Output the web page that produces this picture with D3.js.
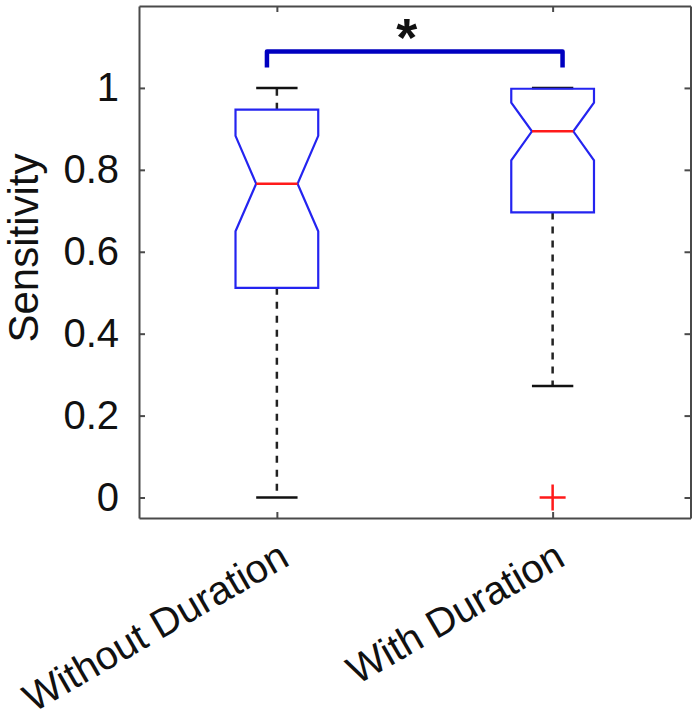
<!DOCTYPE html>
<html>
<head>
<meta charset="utf-8">
<script src="https://cdn.jsdelivr.net/npm/d3@7"></script>
<style>
  html, body { margin: 0; padding: 0; background: #fff; }
  svg { display: block; }
  text { font-family: "Liberation Sans", Arial, Helvetica, sans-serif; }
</style>
</head>
<body>
<script>
// ---- data ----
const categories   = ["Without Duration", "With Duration"];
const positions    = [1, 2];
const q1           = [0.512, 0.696];
const medians      = [0.766, 0.894];
const q3           = [0.947, 0.998];
const notchLow     = [0.650, 0.823];
const notchHigh    = [0.883, 0.964];
const whiskerLow   = [0.0, 0.272];
const whiskerHigh  = [1.0, 1.0];
const outliers     = [[], [0.0]];
const yTicks       = [0, 0.2, 0.4, 0.6, 0.8, 1];
const sigPair      = [1, 2];
const sigLabel     = "*";
const yLabel       = "Sensitivity";

// ---- layout ----
const W = 694, H = 726;
const margin = { left: 139, right: 3.5, top: 6, bottom: 208 };
const svg = d3.select("body").append("svg").attr("width", W).attr("height", H);

const x = d3.scaleLinear().domain([0.5, 2.5]).range([margin.left, W - margin.right]);
const y = d3.scaleLinear().domain([-0.05, 1.2]).range([H - margin.bottom, margin.top]);

const boxHalf = 0.15, notchHalf = 0.075, capHalf = 0.075;
const axisColor = "#4a4a4a";
const tickFont = 40;
const catFont = 40;
const labelFont = 42;

// axes
const gL = svg.append("g").attr("transform", `translate(${margin.left},0)`)
  .call(d3.axisLeft(y).tickValues(yTicks).tickFormat(d3.format("~g")).tickSizeInner(-6).tickSizeOuter(0).tickPadding(20));
const gR = svg.append("g").attr("transform", `translate(${W - margin.right},0)`)
  .call(d3.axisRight(y).tickValues(yTicks).tickFormat("").tickSizeInner(-6).tickSizeOuter(0));
const gB = svg.append("g").attr("transform", `translate(0,${H - margin.bottom})`)
  .call(d3.axisBottom(x).tickValues(positions).tickFormat("").tickSizeInner(-6).tickSizeOuter(0));
const gT = svg.append("g").attr("transform", `translate(0,${margin.top})`)
  .call(d3.axisTop(x).tickValues(positions).tickFormat("").tickSizeInner(-6).tickSizeOuter(0));
[gL, gR, gB, gT].forEach(g => {
  g.selectAll(".domain").attr("stroke", axisColor).attr("stroke-width", 2);
  g.selectAll(".tick line").attr("stroke", axisColor).attr("stroke-width", 2);
});
gL.selectAll(".tick text").attr("font-size", tickFont).attr("fill", "#111")
  .attr("font-family", "'Liberation Sans', Arial, sans-serif");

// rotated category labels
svg.append("g").selectAll("text").data(categories).join("text")
  .attr("transform", (d, i) => `translate(${x(positions[i]) + 9},${H - margin.bottom + 37}) rotate(-30)`)
  .attr("text-anchor", "end")
  .attr("dominant-baseline", "middle")
  .attr("font-size", catFont)
  .attr("fill", "#111")
  .text(d => d);

// y label
svg.append("text")
  .attr("transform", `translate(38,248) rotate(-90)`)
  .attr("text-anchor", "middle")
  .attr("font-size", labelFont)
  .attr("fill", "#111")
  .text(yLabel);

// boxes
const gBox = svg.append("g");
positions.forEach((p, i) => {
  // whiskers (dashed)
  gBox.append("line").attr("x1", x(p)).attr("x2", x(p)).attr("y1", y(q3[i])).attr("y2", y(whiskerHigh[i]))
    .attr("stroke", "#222").attr("stroke-width", 2.5).attr("stroke-dasharray", "7,7");
  gBox.append("line").attr("x1", x(p)).attr("x2", x(p)).attr("y1", y(q1[i])).attr("y2", y(whiskerLow[i]))
    .attr("stroke", "#222").attr("stroke-width", 2.5).attr("stroke-dasharray", "7,7");
  // caps
  [whiskerLow[i], whiskerHigh[i]].forEach(v => {
    gBox.append("line").attr("x1", x(p - capHalf)).attr("x2", x(p + capHalf)).attr("y1", y(v)).attr("y2", y(v))
      .attr("stroke", "#111").attr("stroke-width", 2.5);
  });
  // notched box
  const pts = [
    [p - boxHalf, q1[i]], [p - boxHalf, notchLow[i]], [p - notchHalf, medians[i]],
    [p - boxHalf, notchHigh[i]], [p - boxHalf, q3[i]], [p + boxHalf, q3[i]],
    [p + boxHalf, notchHigh[i]], [p + notchHalf, medians[i]], [p + boxHalf, notchLow[i]],
    [p + boxHalf, q1[i]]
  ];
  gBox.append("path")
    .attr("d", d3.line().x(d => x(d[0])).y(d => y(d[1]))(pts) + "Z")
    .attr("fill", "none").attr("stroke", "#2424f0").attr("stroke-width", 2.2);
  // median
  gBox.append("line").attr("x1", x(p - notchHalf)).attr("x2", x(p + notchHalf))
    .attr("y1", y(medians[i])).attr("y2", y(medians[i]))
    .attr("stroke", "#ff1a1a").attr("stroke-width", 2.5);
  // outliers
  outliers[i].forEach(v => {
    const cx = x(p), cy = y(v), s = 13;
    gBox.append("path").attr("d", `M${cx - s},${cy}H${cx + s}M${cx},${cy - s}V${cy + s}`)
      .attr("stroke", "#ff1a1a").attr("stroke-width", 2.5).attr("fill", "none");
  });
});

// significance bracket
const bx1 = x(sigPair[0] - 0.036), bx2 = x(sigPair[1] + 0.036);
const byTop = y(1.089), byLeg = y(1.05);
svg.append("path")
  .attr("d", `M${bx1},${byLeg}V${byTop}H${bx2}V${byLeg}`)
  .attr("fill", "none").attr("stroke", "#0000c0").attr("stroke-width", 4.5)
  .attr("stroke-linejoin", "round");
svg.append("text")
  .attr("x", x(1.471)).attr("y", 56)
  .attr("text-anchor", "middle")
  .attr("font-size", 54).attr("font-weight", "bold")
  .attr("fill", "#111")
  .text(sigLabel);
</script>
</body>
</html>
